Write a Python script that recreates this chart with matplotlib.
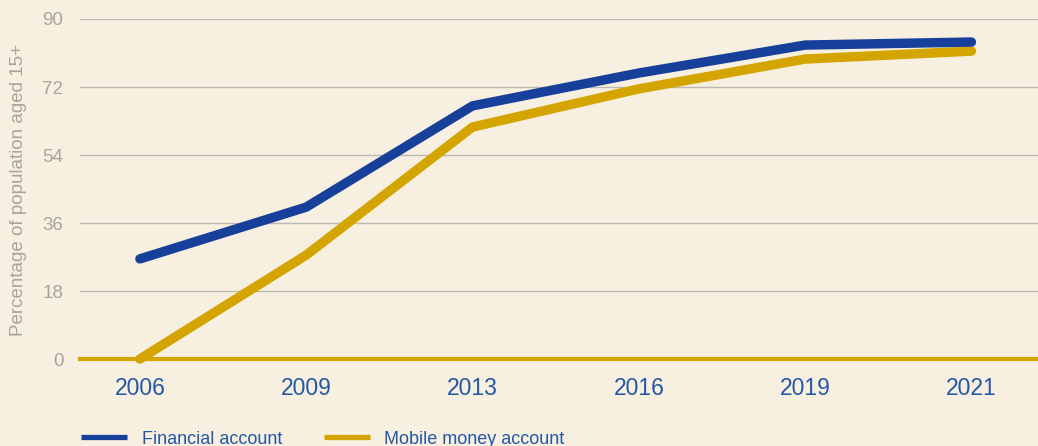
import matplotlib.pyplot as plt
from matplotlib.lines import Line2D

years = ["2006", "2009", "2013", "2016", "2019", "2021"]
financial = [26.5, 40.2, 67.0, 75.7, 83.1, 83.9]
mobile = [0.0, 27.5, 61.4, 71.5, 79.4, 81.5]
yticks = [0, 18, 36, 54, 72, 90]

bg = "#F7F0E0"
blue = "#17409A"
gold = "#D4A500"
grey = "#A9A39B"
tickblue = "#2457A4"

plt.rcParams['font.family'] = ['Liberation Sans', 'DejaVu Sans']

fig = plt.figure(figsize=(10.38, 4.46), dpi=100, facecolor=bg)
ax = fig.add_axes([80 / 1038, 87 / 446, 958 / 1038, 340 / 446])
ax.set_facecolor(bg)

x = list(range(len(years)))
ax.plot(x, financial, color=blue, lw=6.8, solid_capstyle='round',
        solid_joinstyle='round', zorder=4, clip_on=False)
ax.plot(x, mobile, color=gold, lw=6.8, solid_capstyle='round',
        solid_joinstyle='round', zorder=3, clip_on=False)

ax.set_xlim(-0.36, 5.4)
ax.set_ylim(0, 90)
ax.set_yticks(yticks)
ax.set_yticklabels([str(v) for v in yticks])
ax.set_xticks(x)
ax.set_xticklabels(years)

for v in yticks[1:]:
    ax.axhline(v, color="#BDB8B2", lw=1.0, zorder=1)
ax.axhline(0, color=gold, lw=3, zorder=2, clip_on=False)

for s in ax.spines.values():
    s.set_visible(False)
ax.tick_params(axis='y', length=0, pad=12, labelsize=13.5, labelcolor=grey)
ax.tick_params(axis='x', length=0, pad=13, labelsize=16.5, labelcolor=tickblue)
ax.set_ylabel("Percentage of population aged 15+", color=grey, fontsize=13.5)
ax.yaxis.set_label_coords(-0.055, 0.497)

handles = [Line2D([], [], color=blue, lw=3.8, solid_capstyle='butt'),
           Line2D([], [], color=gold, lw=3.8, solid_capstyle='butt')]
fig.legend(handles, ["Financial account", "Mobile money account"],
           loc='center left', bbox_to_anchor=(65 / 1038, 7 / 446), ncol=2,
           frameon=False, fontsize=13, handlelength=2.55, handletextpad=0.8,
           columnspacing=2.3, labelcolor=tickblue)

fig.savefig("out.png", dpi=100, facecolor=bg)
